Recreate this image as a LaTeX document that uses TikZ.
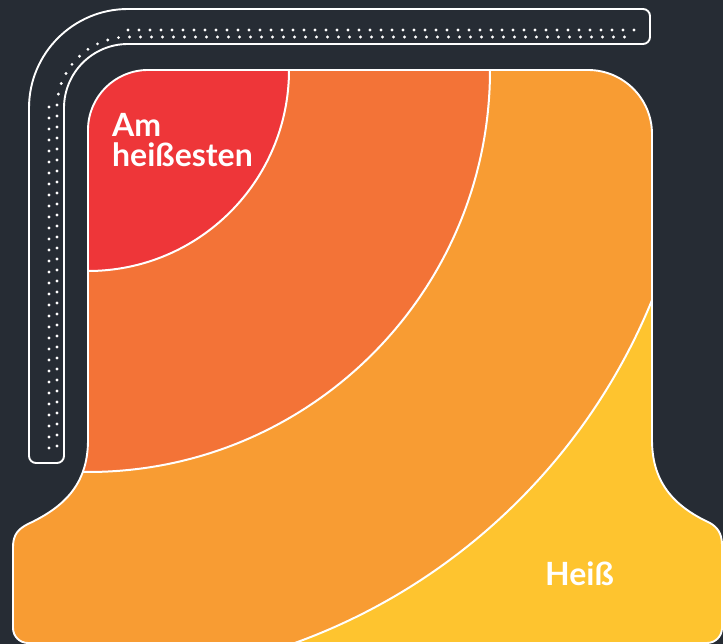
\documentclass[tikz,border=0pt]{standalone}
\usepackage{fontspec}
\setmainfont{Lato}
\definecolor{bgc}{HTML}{262C34}
\definecolor{redc}{HTML}{EE3639}
\definecolor{darkorangec}{HTML}{F37337}
\definecolor{orangec}{HTML}{F89C33}
\definecolor{yellowc}{HTML}{FEC42F}
\begin{document}
\begin{tikzpicture}[x=1pt,y=-1pt,
  outline/.style={draw=white,line width=1.9pt},
  zoneline/.style={draw=white,line width=2pt},
  dotrow/.style={draw=white,line width=3.2pt,line cap=round,dash pattern=on 0pt off 11pt},
  lbl/.style={text=white,font=\bfseries\fontsize{32}{32}\selectfont,inner sep=0pt,anchor=base west}]
\useasboundingbox (0,0) rectangle (723,644);
\fill[bgc] (0,0) rectangle (723,644);
\def\shapepath{(13,628) -- (13,547) .. controls (13,535) and (18,529) .. (28,524) .. controls (62,508) and (88,486) .. (88,440) -- (88,130) arc[start angle=180,end angle=270,radius=60] -- (588,70) arc[start angle=270,end angle=360,radius=64] -- (652,440) .. controls (652,486) and (678,508) .. (710,523) .. controls (717,527) and (722,533) .. (722,545) -- (722,628) arc[start angle=0,end angle=90,radius=15] -- (28,643) arc[start angle=90,end angle=180,radius=15] -- cycle}
\coordinate (hc) at (88,70);
\begin{scope}
  \clip \shapepath;
  \fill[yellowc] (0,0) rectangle (723,644);
  \fill[orangec] (hc) circle[radius=609];
  \fill[darkorangec] (hc) circle[radius=402];
  \fill[redc] (hc) circle[radius=201];
  \draw[zoneline] (hc) circle[radius=609];
  \draw[zoneline] (hc) circle[radius=402];
  \draw[zoneline] (hc) circle[radius=201];
\end{scope}
\draw[outline] \shapepath;
% heating bar
\draw[outline] (29,456) -- (29,108) arc[start angle=180,end angle=270,radius=99] -- (643,9) arc[start angle=270,end angle=360,radius=7] -- (650,37) arc[start angle=0,end angle=90,radius=7] -- (128,44) arc[start angle=270,end angle=180,radius=64] -- (64,456) arc[start angle=0,end angle=90,radius=7] -- (36,463) arc[start angle=90,end angle=180,radius=7] -- cycle;
\draw[dotrow] (57,446) -- (57,108) arc[start angle=180,end angle=270,radius=71] -- (634,37);
\draw[dotrow] (49,448) -- (49,106);
\draw[dotrow] (128,30) -- (638,30);
% labels
\node[lbl] (am) at (112,137) {Am};
\node[lbl] (hst) at (112,167) {heißesten};
\node[lbl] (heiss) at (545,585) {Heiß};
\end{tikzpicture}
\end{document}
